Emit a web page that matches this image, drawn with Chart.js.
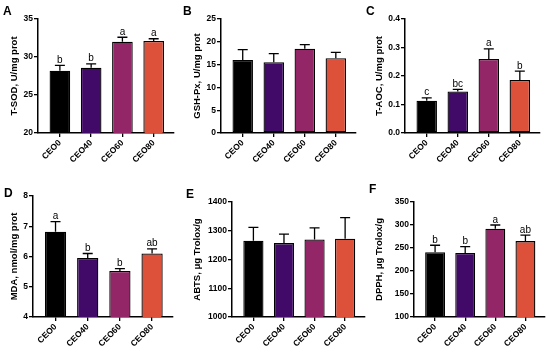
<!DOCTYPE html>
<html>
<head>
<meta charset="utf-8">
<script src="https://cdn.jsdelivr.net/npm/chart.js@4.4.1/dist/chart.umd.min.js"></script>
<style>
body { margin: 0; background: #fff; }
#wrap { position: relative; width: 550px; height: 354px; overflow: hidden; }
canvas { position: absolute; }
.lbl { position: absolute; font: bold 12px "Liberation Sans", Arial, sans-serif; line-height: 12px; }
</style>
</head>
<body>
<div id="wrap"></div>
<script>
// groups and colours
const categories = ['CEO0', 'CEO40', 'CEO60', 'CEO80'];
const barColors = ['#000000', '#420a68', '#932667', '#dd513a'];

// A: T-SOD
const sodMean = [28.2, 28.6, 32.0, 32.1];
const sodSd = [0.7, 0.5, 0.6, 0.3];
const sodLetters = ['b', 'b', 'a', 'a'];

// B: GSH-Px
const gshMean = [16.0, 15.5, 18.5, 16.4];
const gshSd = [2.3, 1.9, 0.9, 1.3];

// C: T-AOC
const taocMean = [0.113, 0.146, 0.260, 0.186];
const taocSd = [0.010, 0.007, 0.035, 0.031];
const taocLetters = ['c', 'bc', 'a', 'b'];

// D: MDA
const mdaMean = [6.82, 5.95, 5.52, 6.10];
const mdaSd = [0.33, 0.15, 0.08, 0.15];
const mdaLetters = ['a', 'b', 'b', 'ab'];

// E: ABTS
const abtsMean = [1265, 1257, 1270, 1272];
const abtsSd = [47, 31, 40, 74];

// F: DPPH
const dpphMean = [241, 239, 292, 265];
const dpphSd = [15, 14, 8, 13];
const dpphLetters = ['b', 'b', 'a', 'ab'];

const FONT = '"Liberation Sans", Arial, sans-serif';

const panels = [
  { tag: 'A', title: 'T-SOD, U/mg prot', mean: sodMean, sd: sodSd, letters: sodLetters,
    min: 20, max: 35, step: 5, dec: 0, box: [0, 0, 183, 177], yw: 38, top: 19, right: 9, xh: 44, lbl: [3, 5] },
  { tag: 'B', title: 'GSH-Px, U/mg prot', mean: gshMean, sd: gshSd, letters: null,
    min: 0, max: 25, step: 5, dec: 0, box: [183, 0, 182, 177], yw: 38, top: 19, right: 9, xh: 44, lbl: [183, 5] },
  { tag: 'C', title: 'T-AOC, U/mg prot', mean: taocMean, sd: taocSd, letters: taocLetters,
    min: 0, max: 0.4, step: 0.1, dec: 1, box: [365, 0, 185, 177], yw: 40, top: 19, right: 10, xh: 44, lbl: [366, 5] },
  { tag: 'D', title: 'MDA, nmol/mg prot', mean: mdaMean, sd: mdaSd, letters: mdaLetters,
    min: 4, max: 8, step: 1, dec: 0, box: [0, 177, 183, 177], yw: 33, top: 19, right: 10, xh: 37, lbl: [4, 187] },
  { tag: 'E', title: 'ABTS, \u03bcg Trolox/g', mean: abtsMean, sd: abtsSd, letters: null,
    min: 1000, max: 1400, step: 100, dec: 0, box: [183, 177, 184, 177], yw: 49, top: 25, right: 2, xh: 37, lbl: [186, 188] },
  { tag: 'F', title: 'DPPH, \u03bcg Trolox/g', mean: dpphMean, sd: dpphSd, letters: dpphLetters,
    min: 100, max: 350, step: 50, dec: 0, box: [365, 177, 185, 177], yw: 49, top: 25, right: 5, xh: 37, lbl: [369, 183] }
];

// one-sided error bars with significance letters on top
const errorBars = {
  id: 'errorBars',
  afterDatasetsDraw(chart, args, opts) {
    const ctx = chart.ctx;
    const y = chart.scales.y;
    const meta = chart.getDatasetMeta(0);
    ctx.save();
    ctx.strokeStyle = '#000';
    ctx.fillStyle = '#000';
    ctx.lineWidth = 1.3;
    ctx.font = '10px ' + FONT;
    ctx.textAlign = 'center';
    ctx.textBaseline = 'alphabetic';
    meta.data.forEach((bar, i) => {
      const top = y.getPixelForValue(opts.mean[i] + opts.sd[i]);
      ctx.beginPath();
      ctx.moveTo(bar.x, bar.y);
      ctx.lineTo(bar.x, top);
      ctx.moveTo(bar.x - 5, top);
      ctx.lineTo(bar.x + 5, top);
      ctx.stroke();
      if (opts.letters) ctx.fillText(opts.letters[i], bar.x, top - 2.5);
    });
    ctx.restore();
  }
};

const wrap = document.getElementById('wrap');

panels.forEach(p => {
  const cv = document.createElement('canvas');
  cv.width = p.box[2];
  cv.height = p.box[3];
  cv.style.left = p.box[0] + 'px';
  cv.style.top = p.box[1] + 'px';
  wrap.appendChild(cv);

  const lbl = document.createElement('div');
  lbl.className = 'lbl';
  lbl.textContent = p.tag;
  lbl.style.left = p.lbl[0] + 'px';
  lbl.style.top = p.lbl[1] + 'px';
  wrap.appendChild(lbl);

  new Chart(cv.getContext('2d'), {
    type: 'bar',
    data: {
      datasets: [{
        data: p.mean.map((v, i) => ({ x: i, y: v })),
        backgroundColor: barColors,
        borderColor: '#000',
        borderWidth: 1.3,
        borderSkipped: false,
        categoryPercentage: 1,
        barPercentage: 0.66
      }]
    },
    options: {
      responsive: false,
      animation: false,
      devicePixelRatio: 1,
      layout: { padding: { top: p.top, right: p.right, left: 0, bottom: 0 } },
      plugins: {
        legend: { display: false },
        tooltip: { enabled: false },
        errorBars: { mean: p.mean, sd: p.sd, letters: p.letters }
      },
      scales: {
        x: {
          type: 'linear',
          min: -0.7,
          max: 3.65,
          offset: false,
          afterFit: s => { s.height = p.xh; },
          grid: { drawOnChartArea: false, drawTicks: true, tickLength: 4, color: '#000', lineWidth: 1.3, offset: false },
          border: { display: true, color: '#000', width: 1.5 },
          ticks: {
            stepSize: 1,
            includeBounds: false,
            autoSkip: false,
            minRotation: 45,
            maxRotation: 45,
            padding: 1,
            color: '#000',
            font: { family: FONT, size: 8.5, weight: 'bold' },
            callback: v => categories[v]
          }
        },
        y: {
          min: p.min,
          max: p.max,
          afterFit: s => { s.width = p.yw; },
          grid: { drawOnChartArea: false, drawTicks: true, tickLength: 4, color: '#000', lineWidth: 1.3 },
          border: { display: true, color: '#000', width: 1.5 },
          ticks: {
            stepSize: p.step,
            padding: 1,
            color: '#000',
            font: { family: FONT, size: 8.5, weight: 'bold' },
            callback: v => v.toFixed(p.dec)
          },
          title: {
            display: true,
            text: p.title,
            color: '#000',
            padding: { top: 9, bottom: 0 },
            font: { family: FONT, size: 9.5, weight: 'bold' }
          }
        }
      }
    },
    plugins: [errorBars]
  });
});
</script>
</body>
</html>
